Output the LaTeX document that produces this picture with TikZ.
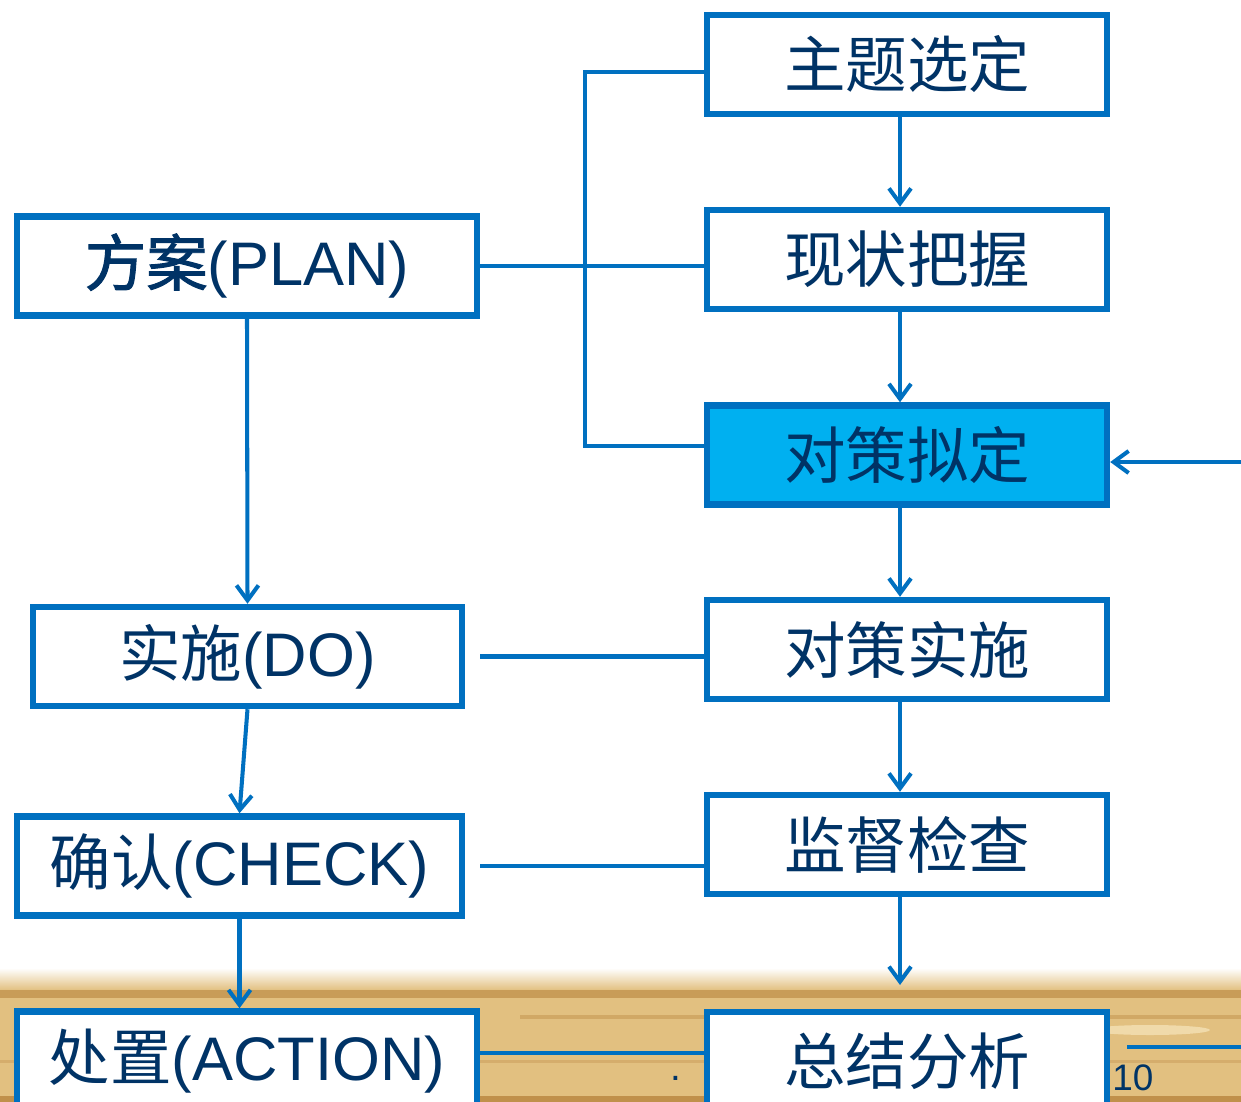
\documentclass[tikz,border=0pt]{standalone}
\usepackage{fontspec}
\setmainfont{Liberation Sans}
\newfontfamily\cjk{Noto Sans CJK SC}
\newfontfamily\cjkbold{Noto Sans CJK SC}[FakeBold=1.6]
\usetikzlibrary{arrows.meta,calc}
\definecolor{boxblue}{RGB}{0,112,192}
\definecolor{boxfill}{RGB}{0,176,240}
\definecolor{navy}{RGB}{0,51,102}
\definecolor{wood}{RGB}{226,192,128}
\definecolor{wooddark}{RGB}{184,132,62}
\definecolor{woodlight}{RGB}{240,218,170}
\tikzset{
  stepbox/.style={draw=boxblue,line width=3.7pt,fill=white,text=navy,
    minimum height=1.98cm,inner sep=0pt,font=\fontsize{35}{40}\selectfont},
  link/.style={draw=boxblue,line width=2.3pt},
  arr/.style={link,-{Straight Barb[length=3mm,width=4.4mm,line width=2.3pt]}}
}
\begin{document}
\begin{tikzpicture}[x=0.02cm,y=-0.02cm]
        \useasboundingbox (0,0) rectangle (1241,1102);
        % wood strip
        \shade[top color=white,bottom color=wood] (0,968) rectangle (1241,990);
        \fill[wood] (0,990) rectangle (1241,1102);
        \fill[wooddark,opacity=0.6] (0,990) rectangle (1241,998);
        \fill[woodlight] (230,1025) ellipse[x radius=40,y radius=6];
        \fill[woodlight] (1150,1030) ellipse[x radius=60,y radius=5];
        \fill[wooddark,opacity=0.4] (520,1015) rectangle (1241,1019);
        \fill[wooddark,opacity=0.3] (0,1060) rectangle (1241,1063);
        \fill[wooddark,opacity=0.8] (0,1096) rectangle (1241,1102);
        % right column
        \node[stepbox,minimum width=8cm] (ztxd) at (907,64.5) {\cjk 主题选定};
        \node[stepbox,minimum width=8cm] (xzbw) at (907,259.5) {\cjk 现状把握};
        \node[stepbox,minimum width=8cm,fill=boxfill] (dcnd) at (907,455) {\cjk 对策拟定};
        \node[stepbox,minimum width=8cm] (dcss) at (907,649.5) {\cjk 对策实施};
        \node[stepbox,minimum width=8cm] (jdjc) at (907,844.5) {\cjk 监督检查};
        \node[stepbox,minimum width=8cm] (zjfx) at (907,1061.5) {\cjk 总结分析};
        % left column
        \node[stepbox,minimum width=9.2cm] (plan) at (247,266) {{\cjkbold 方案}(PLAN)};
        \node[stepbox,minimum width=8.58cm] (do) at (247.5,656.5) {{\cjk 实施}(DO)};
        \node[stepbox,minimum width=8.9cm] (check) at (239.5,866) {{\cjk 确认}(CHECK)};
        \node[stepbox,minimum width=9.2cm] (action) at (247,1061) {{\cjk 处置}(ACTION)};
        % helper points
        \coordinate (col) at (900,0);
        \coordinate (brtop) at (585,72);
        \coordinate (brbot) at (585,446);
        \coordinate (jdend) at (900,985);
        \coordinate (inr) at (1241,462);
        \coordinate (outr) at (1241,1047);
        % connectors
        \draw[link] (ztxd.west |- brtop) -- (brtop) -- (brbot) -- (dcnd.west |- brbot);
        \draw[link] (plan.east) -- (plan.east -| xzbw.west);
        \draw[arr] (ztxd.south -| col) -- (xzbw.north -| col);
        \draw[arr] (xzbw.south -| col) -- (dcnd.north -| col);
        \draw[arr] (dcnd.south -| col) -- (dcss.north -| col);
        \draw[arr] (dcss.south -| col) -- (jdjc.north -| col);
        \draw[arr] (jdjc.south -| col) -- (jdend);
        \draw[arr] (inr) -- (dcnd.east |- inr);
        \draw[arr] (plan.south) -- (do.north);
        \draw[arr] (do.south) -- (check.north);
        \draw[arr] (check.south) -- (check.south |- action.north);
        \draw[link] ($(do.east)+(15,0)$) -- (do.east -| dcss.west);
        \draw[link] ($(check.east)+(15,0)$) -- (check.east -| jdjc.west);
        \draw[link] (action.east |- 0,1053) -- (zjfx.west |- 0,1053);
        \draw[link] ($(zjfx.east |- outr)+(17,0)$) -- (outr);
        % page marks
        \node[text=navy,font=\fontsize{22}{22}\selectfont] (dot) at (676,1078) {.};
        \node[text=navy,font=\fontsize{21}{21}\selectfont,anchor=west,inner sep=0pt] (pgno) at (1112,1078) {10};
    \end{tikzpicture}
\end{document}
